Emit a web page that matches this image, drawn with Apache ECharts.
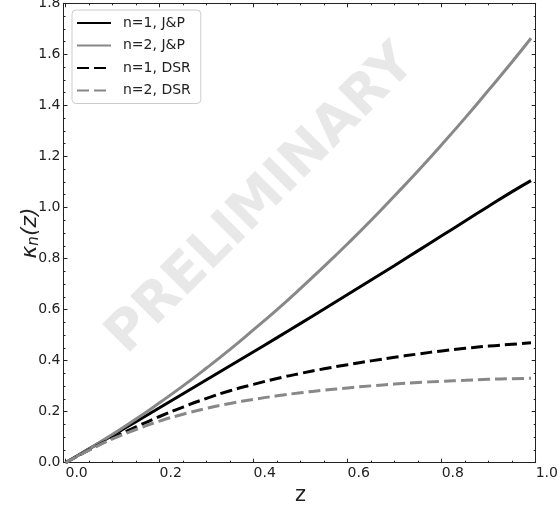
<!DOCTYPE html>
<html>
<head>
<meta charset="utf-8">
<script src="https://cdn.jsdelivr.net/npm/echarts@6/dist/echarts.min.js"></script>
<style>html,body{margin:0;padding:0;background:#fff}#c{width:560px;height:508px}</style>
</head>
<body>
<div id="c"></div>
<script>
const zValues = [0, 0.05, 0.1, 0.15, 0.2, 0.25, 0.3, 0.35, 0.4, 0.45, 0.5, 0.55, 0.6, 0.65, 0.7, 0.75, 0.8, 0.85, 0.9, 0.95, 0.99];
const jp1 = [0, 0.054, 0.107, 0.161, 0.215, 0.270, 0.325, 0.380, 0.435, 0.490, 0.546, 0.602, 0.659, 0.716, 0.773, 0.831, 0.889, 0.947, 1.005, 1.062, 1.105];
const jp2 = [0, 0.054, 0.111, 0.171, 0.235, 0.301, 0.371, 0.444, 0.521, 0.600, 0.683, 0.769, 0.858, 0.950, 1.046, 1.144, 1.246, 1.351, 1.460, 1.571, 1.663];
const dsr1 = [0, 0.050, 0.097, 0.140, 0.181, 0.218, 0.252, 0.282, 0.307, 0.330, 0.350, 0.368, 0.384, 0.399, 0.413, 0.426, 0.438, 0.448, 0.457, 0.464, 0.470];
const dsr2 = [0, 0.049, 0.093, 0.130, 0.163, 0.190, 0.213, 0.232, 0.248, 0.262, 0.274, 0.284, 0.293, 0.301, 0.308, 0.314, 0.319, 0.323, 0.327, 0.329, 0.331];
const seriesNames = ['n=1, J&P', 'n=2, J&P', 'n=1, DSR', 'n=2, DSR'];
const xTicks = [0, 0.2, 0.4, 0.6, 0.8, 1.0];
const yTicks = [0, 0.2, 0.4, 0.6, 0.8, 1.0, 1.2, 1.4, 1.6, 1.8];

const FONT = 'DejaVu Sans';
const pairs = arr => zValues.map((z, i) => [z, arr[i]]);
const axisCol = '#222';

const chart = echarts.init(document.getElementById('c'), null, {renderer: 'canvas'});
const mkLine = (name, data, color, dashed) => ({
  name, type: 'line', data: pairs(data), smooth: true, symbol: 'none', showSymbol: false,
  lineStyle: {color, width: 3, type: dashed ? [12, 5] : 'solid', cap: 'butt'},
  itemStyle: {color}, z: 3
});
const baseTick = {show: true, inside: true, length: 4, lineStyle: {color: axisCol, width: 1}};
const minor = {show: true, splitNumber: 4, length: 2, lineStyle: {color: axisCol, width: 1}};

chart.setOption({
  animation: false,
  backgroundColor: '#fff',
  grid: {left: 65.5, right: 24.3, top: 3.3, bottom: 45.3, containLabel: false, outerBoundsMode: 'none'},
  graphic: [{
    type: 'text', x: 262, y: 200, rotation: Math.PI / 4, z: 0,
    style: {text: 'PRELIMINARY', font: 'bold 54px "DejaVu Sans"', fill: '#e8e8e8', align: 'center', verticalAlign: 'middle'}
  }],
  legend: {
    orient: 'vertical', left: 72, top: 10, itemWidth: 34, itemHeight: 14, itemGap: 8.5,
    padding: [6, 10, 6, 4], borderColor: '#cccccc', borderWidth: 1, borderRadius: 4,
    backgroundColor: 'rgba(255,255,255,0.8)',
    itemStyle: {opacity: 0},
    textStyle: {fontFamily: FONT, fontSize: 14, color: '#222', padding: [0, 0, 0, 7]},
    data: seriesNames
  },
  xAxis: [{
    type: 'value', min: xTicks[0], max: xTicks[xTicks.length - 1], interval: 0.2,
    position: 'bottom',
    axisLine: {show: true, onZero: false, lineStyle: {color: axisCol, width: 1}},
    axisTick: baseTick, minorTick: minor, splitLine: {show: false},
    axisLabel: {fontFamily: FONT, fontSize: 14, color: '#222', align: 'left', margin: 4,
      formatter: v => v.toFixed(1), showMaxLabel: true, showMinLabel: true, hideOverlap: false},
    name: 'z', nameLocation: 'middle', nameGap: 22, nameMoveOverlap: false,
    nameTextStyle: {fontFamily: FONT, fontSize: 21, color: '#222'}
  }, {
    type: 'value', min: xTicks[0], max: xTicks[xTicks.length - 1], interval: 0.2,
    position: 'top',
    axisLine: {show: true, onZero: false, lineStyle: {color: axisCol, width: 1}},
    axisTick: baseTick, minorTick: minor, splitLine: {show: false}, axisLabel: {show: false}
  }],
  yAxis: [{
    type: 'value', min: yTicks[0], max: yTicks[yTicks.length - 1], interval: 0.2,
    position: 'left', offset: 2,
    axisLine: {show: true, onZero: false, lineStyle: {color: axisCol, width: 1}},
    axisTick: baseTick, minorTick: minor, splitLine: {show: false},
    axisLabel: {fontFamily: FONT, fontSize: 14, color: '#222', margin: 3,
      formatter: v => v.toFixed(1), showMaxLabel: true, showMinLabel: true},
    name: '{i|κ}{s|n}{i|(z)}', nameLocation: 'middle', nameGap: 22, nameRotate: 90, nameMoveOverlap: false,
    nameTextStyle: {fontFamily: FONT, fontSize: 22, color: '#222',
      rich: {i: {fontFamily: FONT, fontSize: 22, fontStyle: 'italic', color: '#222'},
             s: {fontFamily: FONT, fontSize: 15, fontStyle: 'italic', color: '#222', verticalAlign: 'bottom', padding: [8, 0, 0, 0]}}}
  }, {
    type: 'value', min: yTicks[0], max: yTicks[yTicks.length - 1], interval: 0.2,
    position: 'right',
    axisLine: {show: true, onZero: false, lineStyle: {color: axisCol, width: 1}},
    axisTick: baseTick, minorTick: minor, splitLine: {show: false}, axisLabel: {show: false}
  }],
  series: [
    mkLine(seriesNames[0], jp1, '#000000', false),
    mkLine(seriesNames[1], jp2, '#888888', false),
    mkLine(seriesNames[2], dsr1, '#000000', true),
    mkLine(seriesNames[3], dsr2, '#888888', true)
  ]
});
</script>
</body>
</html>
